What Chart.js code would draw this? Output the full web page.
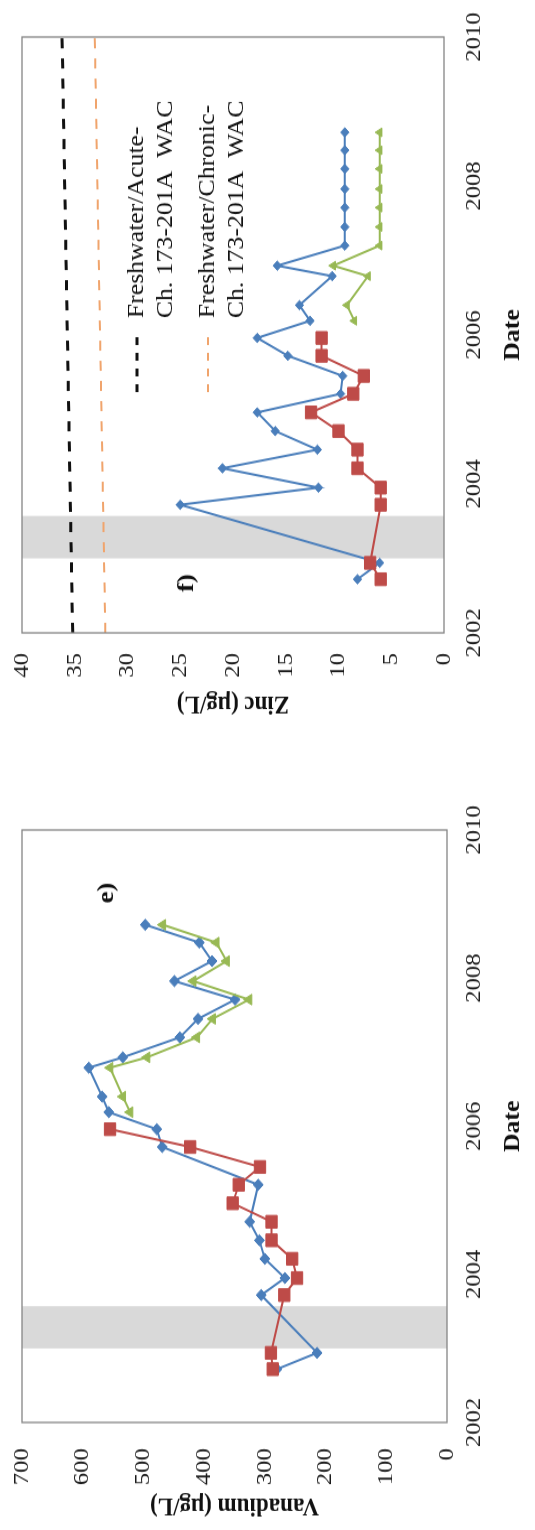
<!DOCTYPE html>
<html>
<head>
<meta charset="utf-8">
<script src="https://cdn.jsdelivr.net/npm/chart.js@4.4.1/dist/chart.umd.min.js"></script>
<style>
  html, body { margin: 0; padding: 0; background: #fff; overflow: hidden; }
  body { width: 535px; height: 1530px; position: relative; }
  /* The two panels sit side by side on a landscape sheet that is turned onto the portrait page */
  #sheet {
    position: absolute; left: 0; top: 0;
    width: 1366px; height: 535px;
    transform-origin: 0 0;
    transform: translateY(1530px) rotate(-90deg) scale(1.12, 1);
  }
  #sheet canvas { position: absolute; top: 0; }
</style>
</head>
<body>
<div id="sheet">
  <canvas id="vanadiumChart" width="683" height="535" style="left:0"></canvas>
  <canvas id="zincChart" width="683" height="535" style="left:683px"></canvas>
</div>
<script>
// Sampling rounds (decimal year)
const surveyDates = [2002.72, 2002.94, 2003.72, 2003.95, 2004.21, 2004.46, 2004.71, 2004.96,
                     2005.21, 2005.45, 2005.72, 2005.96, 2006.19, 2006.40, 2006.79, 2006.93,
                     2007.20, 2007.45, 2007.71, 2007.96, 2008.23, 2008.48, 2008.72];

// Vanadium (µg/L)
const vanadiumBlue  = [280, 214, 306, 267, 300, 309, 325, null, 311, null, 469, 478,
                       557, 568, 590, 534, 440, 410, 349, 449, 387, 408, 497];
const vanadiumRed   = [287, 290, 268, 247, 255, 289, 289, 353, 343, 308, 423, 555,
                       null, null, null, null, null, null, null, null, null, null, null];
const vanadiumGreen = [null, null, null, null, null, null, null, null, null, null, null, null,
                       522, 534, 555, 494, 412, 386, 326, 418, 363, 380, 468];

// Zinc (µg/L)
const zincBlue  = [8.2, 6.1, 25.0, 11.9, 21.0, 12.0, 16.0, 17.7, 9.8, 9.6, 14.8, 17.7,
                   12.7, 13.7, 10.6, 15.8, 9.4, 9.4, 9.4, 9.4, 9.4, 9.4, 9.4];
const zincRed   = [6.0, 7.0, 6.0, 6.0, 8.2, 8.2, 10.0, 12.6, 8.6, 7.6, 11.6, 11.6,
                   null, null, null, null, null, null, null, null, null, null, null];
const zincGreen = [null, null, null, null, null, null, null, null, null, null, null, null,
                   8.5, 9.2, 7.2, 10.5, 6.1, 6.1, 6.1, 6.1, 6.1, 6.1, 6.1];

// Water quality criteria for zinc
const criteriaDates = [2002, 2010];
const acuteWAC   = [35.2, 36.2];
const chronicWAC = [32.1, 33.1];
const acuteLegend   = ['Freshwater/Acute-', 'Ch. 173-201A  WAC'];
const chronicLegend = ['Freshwater/Chronic-', 'Ch. 173-201A  WAC'];

// Shaded period
const shadedPeriod = [2003.0, 2003.57];

// Axis ticks
const dateTicks     = [2002, 2004, 2006, 2008, 2010];
const vanadiumTicks = [0, 100, 200, 300, 400, 500, 600, 700];
const zincTicks     = [0, 5, 10, 15, 20, 25, 30, 35, 40];

const SERIF = '"Liberation Serif", "Times New Roman", "DejaVu Serif", serif';
const BLUE = '#4a7ebb', RED = '#be4b48', GREEN = '#98b954';

function pts(values) {
  return surveyDates.map((d, i) => ({ x: d, y: values[i] }));
}
function pairs(xs, ys) {
  return xs.map((d, i) => ({ x: d, y: ys[i] }));
}

const shadePlugin = {
  id: 'shade',
  beforeDatasetsDraw(chart) {
    const { ctx, chartArea, scales } = chart;
    const x0 = scales.x.getPixelForValue(shadedPeriod[0]);
    const x1 = scales.x.getPixelForValue(shadedPeriod[1]);
    ctx.save();
    ctx.fillStyle = '#d9d9d9';
    ctx.fillRect(x0, chartArea.top, x1 - x0, chartArea.bottom - chartArea.top);
    ctx.restore();
  }
};

const framePlugin = {
  id: 'frame',
  afterDatasetsDraw(chart) {
    const { ctx, chartArea } = chart;
    ctx.save();
    ctx.strokeStyle = '#858585';
    ctx.lineWidth = 1.3;
    ctx.strokeRect(chartArea.left, chartArea.top, chartArea.right - chartArea.left, chartArea.bottom - chartArea.top);
    ctx.restore();
  }
};

const notesPlugin = {
  id: 'notes',
  afterDraw(chart, args, opts) {
    const { ctx, chartArea, scales } = chart;
    ctx.save();
    ctx.fillStyle = '#111';
    ctx.textBaseline = 'middle';
    if (opts.panel) {
      ctx.font = 'bold 24px ' + SERIF;
      ctx.textAlign = 'center';
      ctx.fillText(opts.panel.text, scales.x.getPixelForValue(opts.panel.x), scales.y.getPixelForValue(opts.panel.y));
    }
    if (opts.legend) {
      const L = opts.legend;
      ctx.font = '23px ' + SERIF;
      ctx.textAlign = 'left';
      L.items.forEach(item => {
        const ds = chart.data.datasets[item.datasetIndex];
        const y = chartArea.top + item.y;
        ctx.save();
        ctx.strokeStyle = ds.borderColor;
        ctx.lineWidth = ds.borderWidth;
        ctx.setLineDash(L.sampleDash);
        ctx.beginPath();
        ctx.moveTo(chartArea.left + L.sampleX0, y);
        ctx.lineTo(chartArea.left + L.sampleX1, y);
        ctx.stroke();
        ctx.restore();
        item.lines.forEach((line, i) => {
          ctx.fillText(line, chartArea.left + L.textX, y + i * L.lineGap);
        });
      });
    }
    ctx.restore();
  }
};

function seriesSet(values, color, style, radius, order) {
  return {
    data: pts(values),
    borderColor: color,
    backgroundColor: color,
    borderWidth: 2,
    pointStyle: style,
    pointRadius: radius,
    pointBorderWidth: 1,
    spanGaps: true,
    order: order,
    tension: 0
  };
}

function makeOptions(cfg) {
  return {
    responsive: false,
    animation: false,
    devicePixelRatio: 1,
    layout: { padding: { left: cfg.padLeft, right: cfg.padRight, top: 22, bottom: 0 } },
    plugins: {
      legend: { display: false },
      tooltip: { enabled: false },
      notes: cfg.notes
    },
    scales: {
      x: {
        type: 'linear',
        min: 2002, max: 2010,
        afterBuildTicks: s => { s.ticks = dateTicks.map(v => ({ value: v })); },
        afterFit: s => { s.height = cfg.xHeight; s.paddingLeft = 0; s.paddingRight = 0; },
        grid: { display: false, drawTicks: false },
        border: { display: false },
        ticks: { padding: cfg.xTickPad, color: '#1a1a1a', font: { family: SERIF, size: 22 }, maxRotation: 0,
                 callback: v => String(v) },
        title: { display: true, text: 'Date', color: '#111',
                 font: { family: SERIF, size: 23, weight: 'bold' }, padding: { top: 0, bottom: 8 } }
      },
      y: {
        type: 'linear',
        min: cfg.yTicks[0], max: cfg.yTicks[cfg.yTicks.length - 1],
        afterBuildTicks: s => { s.ticks = cfg.yTicks.map(v => ({ value: v })); },
        afterFit: s => { s.width = cfg.yWidth; s.paddingTop = 0; s.paddingBottom = 0; },
        grid: { display: false, drawTicks: false },
        border: { display: false },
        ticks: { padding: cfg.yTickPad, color: '#1a1a1a', font: { family: SERIF, size: 22 },
                 callback: v => String(v) },
        title: { display: true, text: cfg.yTitle, color: '#111',
                 font: { family: SERIF, size: 23, weight: 'bold' }, padding: { top: 0, bottom: 0 } }
      }
    }
  };
}

new Chart(document.getElementById('vanadiumChart'), {
  type: 'line',
  data: {
    datasets: [
      Object.assign({ label: 'Series 2' }, seriesSet(vanadiumRed, RED, 'rect', 8, 1)),
      Object.assign({ label: 'Series 3' }, seriesSet(vanadiumGreen, GREEN, 'triangle', 5.5, 2)),
      Object.assign({ label: 'Series 1' }, seriesSet(vanadiumBlue, BLUE, 'rectRot', 5, 3))
    ]
  },
  options: makeOptions({
    padLeft: 8, padRight: 58, yWidth: 88, xHeight: 88, xTickPad: 14, yTickPad: 23,
    yTicks: vanadiumTicks, yTitle: 'Vanadium (µg/L)',
    notes: { panel: { text: 'e)', x: 2009.15, y: 560 } }
  }),
  plugins: [shadePlugin, framePlugin, notesPlugin]
});

new Chart(document.getElementById('zincChart'), {
  type: 'line',
  data: {
    datasets: [
      Object.assign({ label: 'Series 2' }, seriesSet(zincRed, RED, 'rect', 8, 1)),
      Object.assign({ label: 'Series 3' }, seriesSet(zincGreen, GREEN, 'triangle', 4.5, 2)),
      Object.assign({ label: 'Series 1' }, seriesSet(zincBlue, BLUE, 'rectRot', 4.2, 3)),
      { label: acuteLegend.join(' '), data: pairs(criteriaDates, acuteWAC), borderColor: '#111',
        borderWidth: 3, borderDash: [9, 9], pointRadius: 0, order: 4 },
      { label: chronicLegend.join(' '), data: pairs(criteriaDates, chronicWAC), borderColor: '#f0a46c',
        borderWidth: 2, borderDash: [9, 9], pointRadius: 0, order: 5 }
    ]
  },
  options: makeOptions({
    padLeft: 41, padRight: 33, yWidth: 77, xHeight: 91, xTickPad: 17, yTickPad: 18,
    yTicks: zincTicks, yTitle: 'Zinc (µg/L)',
    notes: {
      panel: { text: 'f)', x: 2002.67, y: 24.4 },
      legend: {
        sampleX0: 215, sampleX1: 266, textX: 281, lineGap: 29, sampleDash: [7, 7],
        items: [
          { datasetIndex: 3, y: 115, lines: acuteLegend },
          { datasetIndex: 4, y: 186, lines: chronicLegend }
        ]
      }
    }
  }),
  plugins: [shadePlugin, framePlugin, notesPlugin]
});
</script>
</body>
</html>
